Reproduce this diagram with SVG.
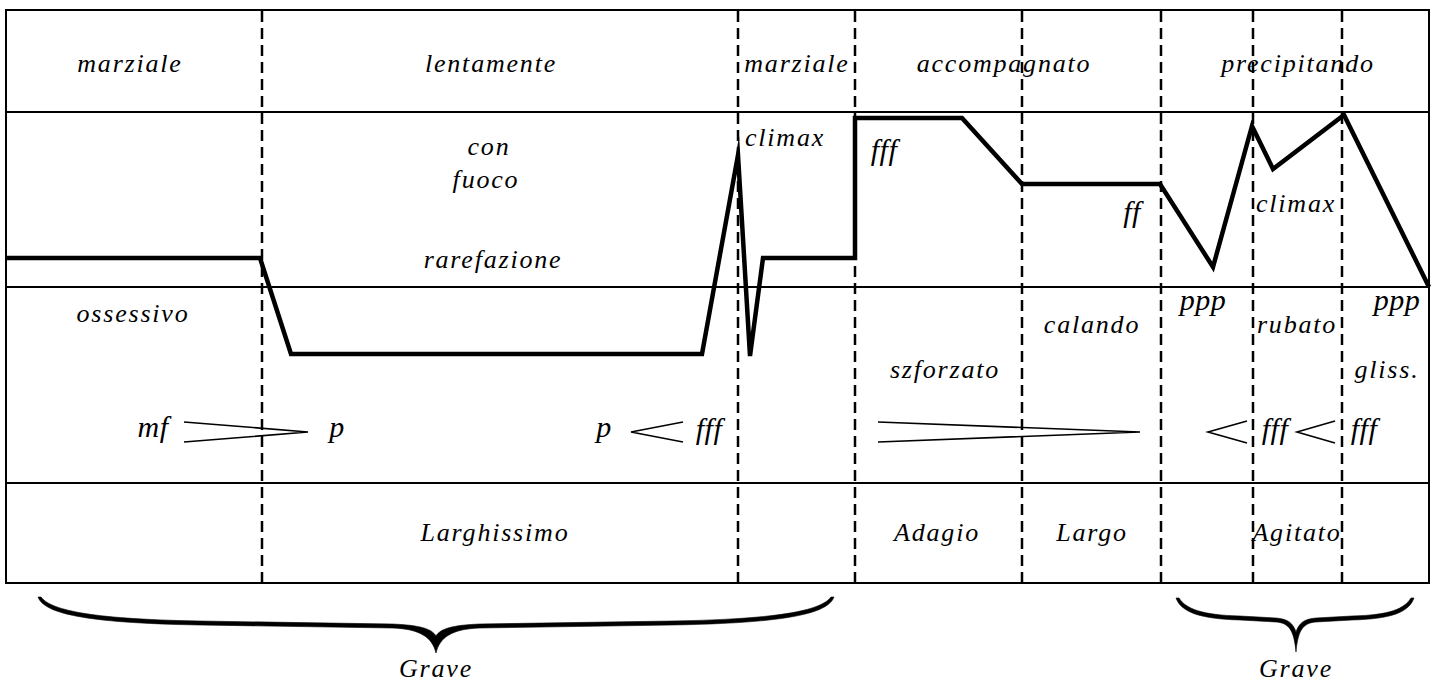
<svg xmlns="http://www.w3.org/2000/svg" width="1438" height="682" viewBox="0 0 1438 682">
<style>
.frame{fill:none;stroke:#000;stroke-width:2}
.dash{stroke:#000;stroke-width:2.5;stroke-dasharray:11 6}
.curve{fill:none;stroke:#000;stroke-width:4.5;stroke-linejoin:miter;stroke-miterlimit:10}
.hair{fill:none;stroke:#000;stroke-width:1.6}
.brace{fill:#000;stroke:#000;stroke-width:0.6}
</style>
<rect width="1438" height="682" fill="#fff"/>
<g id="frame">
<rect class="frame" x="6" y="10" width="1423" height="573"/>
<line class="frame" x1="6" y1="112" x2="1429" y2="112"/>
<line class="frame" x1="6" y1="287" x2="1429" y2="287"/>
<line class="frame" x1="6" y1="483" x2="1429" y2="483"/>
</g>
<g id="dividers">
<line class="dash" x1="262" y1="11" x2="262" y2="582"/>
<line class="dash" x1="738" y1="11" x2="738" y2="582"/>
<line class="dash" x1="855" y1="11" x2="855" y2="582"/>
<line class="dash" x1="1022" y1="11" x2="1022" y2="582"/>
<line class="dash" x1="1161" y1="11" x2="1161" y2="582"/>
<line class="dash" x1="1253" y1="11" x2="1253" y2="582"/>
<line class="dash" x1="1342" y1="11" x2="1342" y2="582"/>
</g>
<g id="connectors">
<polyline id="intensity-curve" class="curve" points="6,258 260,258 291,354 702,354 738,155 750,356 763,258 855,258 855,118 962,118 1022,184 1160,184 1213,267 1252,126 1273,169 1344,115 1429,287"/>
<g id="hairpins">
<polyline class="hair" points="184,422 308,432 184,442"/>
<polyline class="hair" points="683,422 631,432 683,442"/>
<polyline class="hair" points="878,422 1140,432 878,442"/>
<polyline class="hair" points="1247,421 1208,432 1247,443"/>
<polyline class="hair" points="1335,421 1297,432 1335,443"/>
</g>
</g>
<g id="labels" font-family="Liberation Serif" font-style="italic" font-size="26" letter-spacing="1.8" text-anchor="middle" fill="#000">
<g id="row-character">
<text id="t-marziale1" x="130" y="72">marziale</text>
<text id="t-lentamente" x="491" y="72">lentamente</text>
<text id="t-marziale2" x="797" y="72">marziale</text>
<text id="t-accompagnato" x="1004" y="72">accompagnato</text>
<text id="t-precipitando" x="1298" y="72">precipitando</text>
</g>
<g id="row-intensity">
<text x="489" y="155">con</text>
<text x="486" y="188">fuoco</text>
<text x="493" y="268">rarefazione</text>
<text x="785" y="146">climax</text>
<text x="1296" y="212">climax</text>
<text x="133" y="322">ossessivo</text>
<text x="1092" y="333">calando</text>
<text x="1297" y="333">rubato</text>
<text x="945" y="378">szforzato</text>
<text x="1387" y="378">gliss.</text>
</g>
<g id="dynamics" font-size="30" letter-spacing="0.5">
<text x="884" y="160">fff</text>
<text x="1132" y="222">ff</text>
<text x="1203" y="310">ppp</text>
<text x="1397" y="310">ppp</text>
<text x="153" y="437">mf</text>
<text x="337" y="437">p</text>
<text x="604" y="437">p</text>
<text x="709" y="439">fff</text>
<text x="1275" y="439">fff</text>
<text x="1364" y="439">fff</text>
</g>
<g id="row-tempo">
<text x="495" y="541">Larghissimo</text>
<text x="937" y="541">Adagio</text>
<text x="1092" y="541">Largo</text>
<text x="1297" y="541">Agitato</text>
</g>
</g>
<g id="brace-left">
<path class="brace" d="M38,597 C44,613 82,623 200,625 L392,628 C420,629 432,637 436,653 C440,637 452,629 480,628 L672,625 C790,623 828,613 834,597 L831,597 C822,609 788,619 672,621 L480,624 C452,625 440,629 436,636 C432,629 420,625 392,624 L200,621 C84,619 50,609 41,597 Z"/>
<text x="436" y="677" font-family="Liberation Serif" font-style="italic" font-size="26" letter-spacing="1.8" text-anchor="middle">Grave</text>
</g>
<g id="brace-right">
<path class="brace" d="M1176,598 C1181,612 1200,619 1240,620 L1276,622 C1289,623 1294,630 1296,652 C1298,630 1303,623 1316,622 L1352,620 C1392,619 1409,612 1414,598 L1411,598 C1404,609 1390,615 1352,616 L1316,618 C1304,619 1299,623 1296,632 C1293,623 1288,619 1276,618 L1240,616 C1202,615 1186,609 1179,598 Z"/>
<text x="1296" y="677" font-family="Liberation Serif" font-style="italic" font-size="26" letter-spacing="1.8" text-anchor="middle">Grave</text>
</g>
</svg>
